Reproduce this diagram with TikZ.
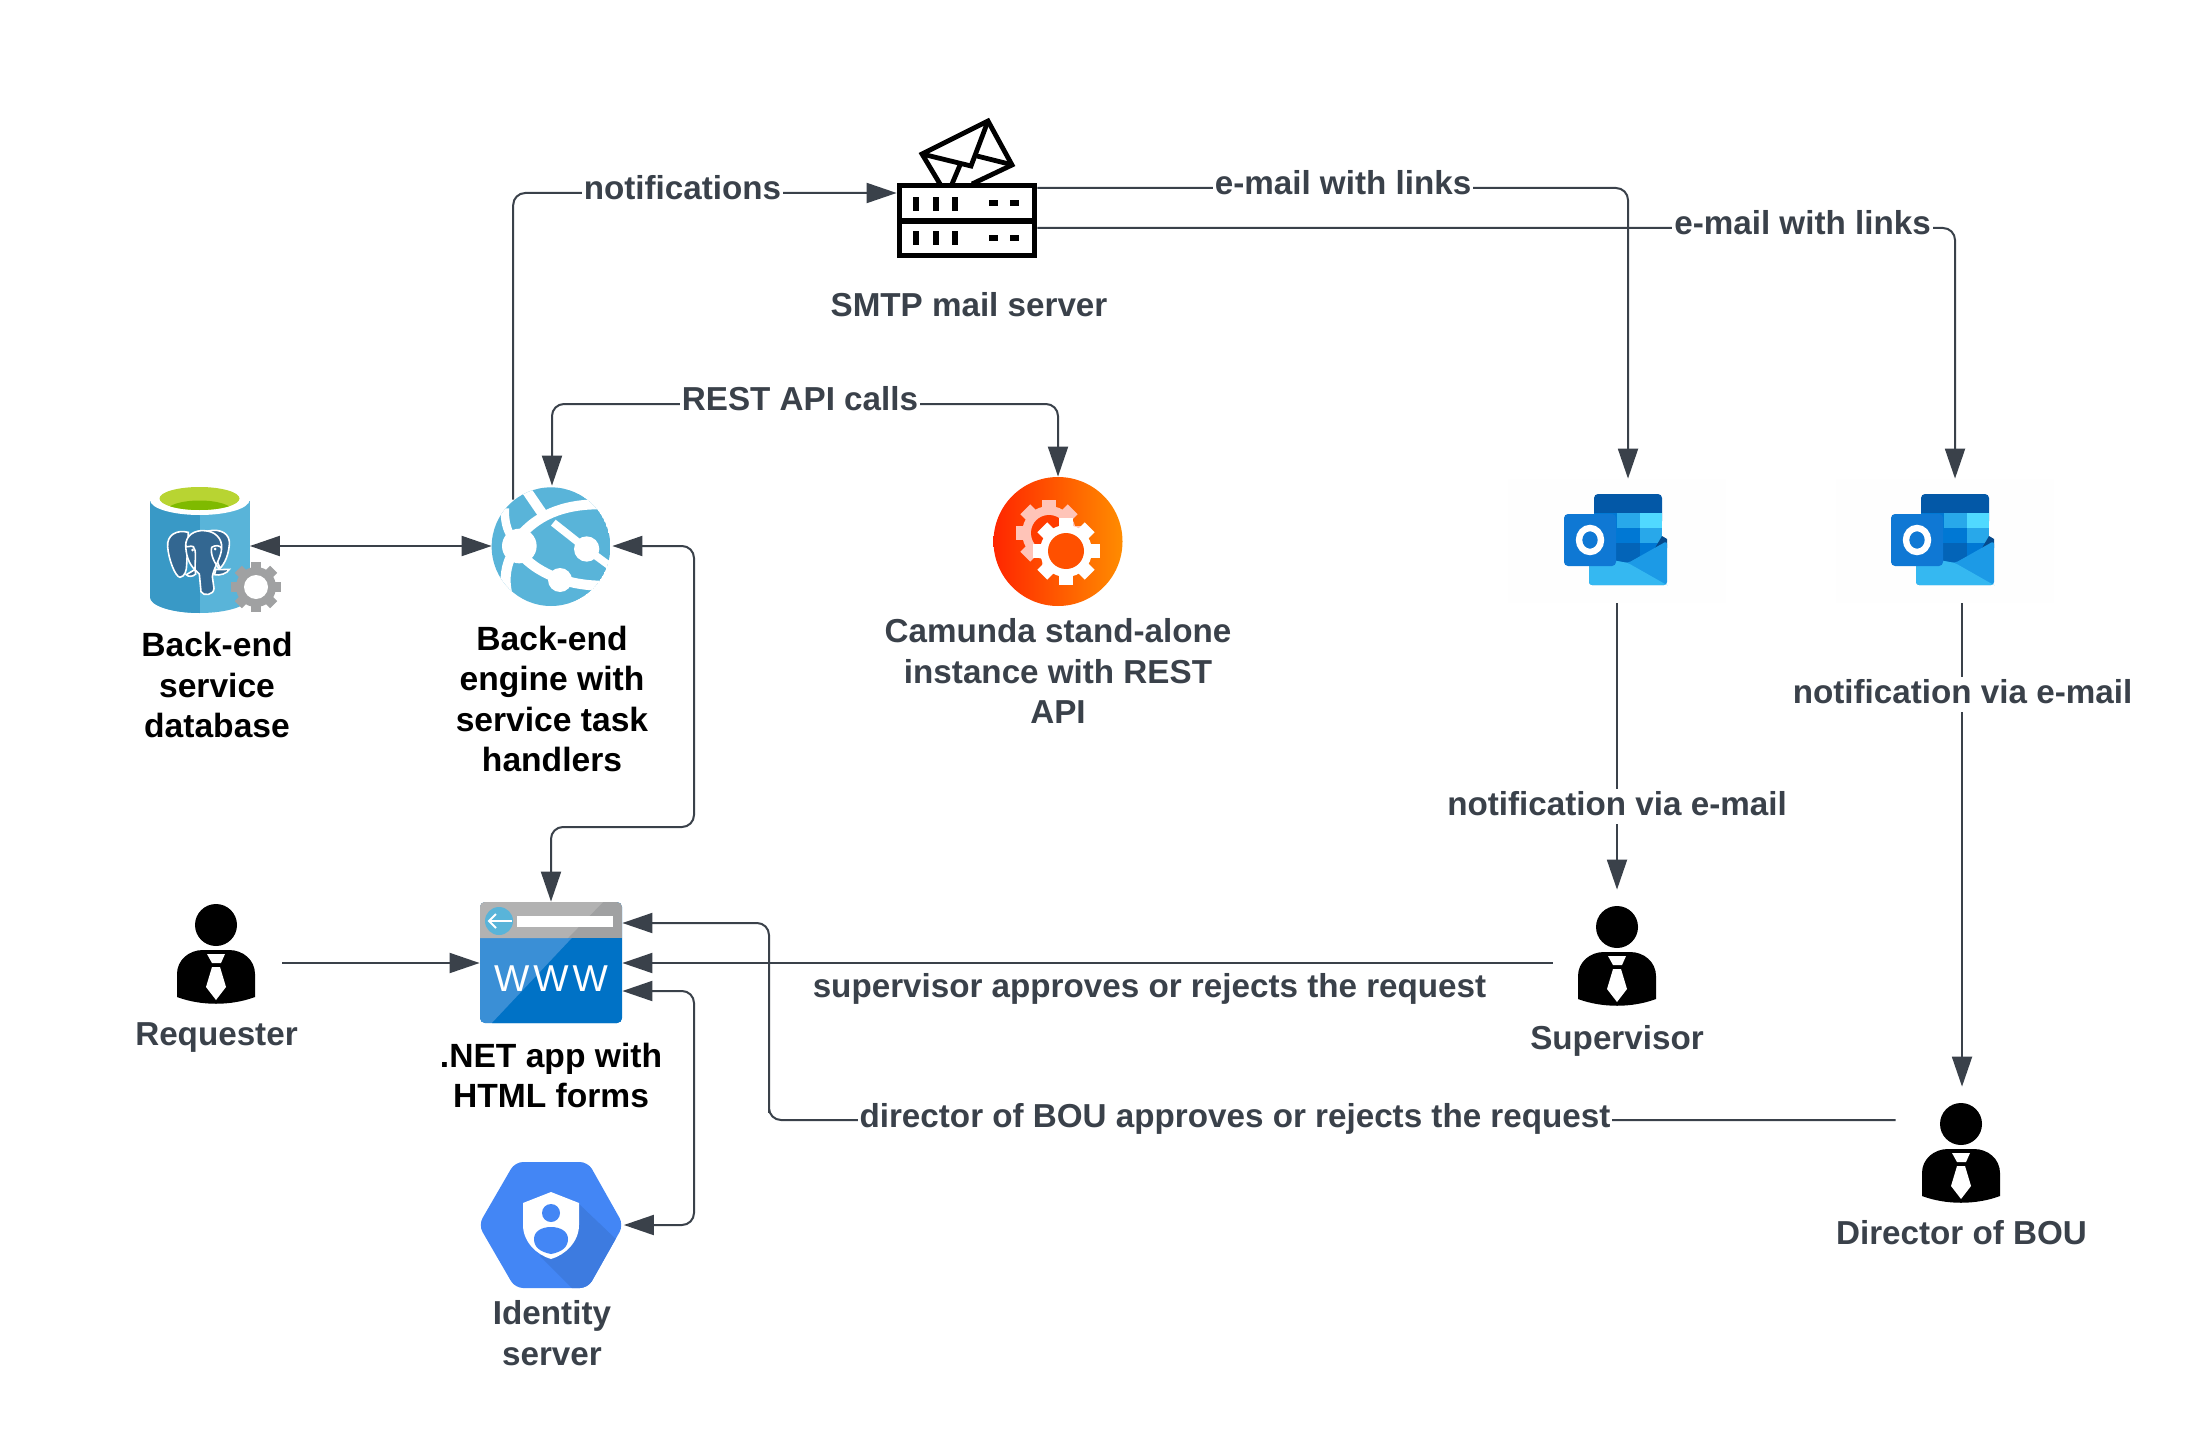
\documentclass[tikz,border=0pt]{standalone}
\usepackage{fontspec}
\setmainfont{Liberation Sans}
\usetikzlibrary{arrows.meta,shapes.geometric,calc}
\definecolor{conncol}{HTML}{3A414A}
\definecolor{globeblue}{HTML}{59B4D9}
\definecolor{dbdark}{HTML}{3999C6}
\definecolor{gearg}{HTML}{A0A1A2}
\definecolor{wwwblue}{HTML}{0072C6}
\definecolor{wwwlight}{HTML}{3A8FD6}
\definecolor{wwwgrey}{HTML}{A0A1A2}
\definecolor{wwwgreyl}{HTML}{B2B2B2}
\definecolor{hexblue}{HTML}{4386F5}
\definecolor{hexdark}{HTML}{3D7BE0}
\definecolor{elephant}{HTML}{336791}
\definecolor{camred}{HTML}{FF2600}
\definecolor{camorange}{HTML}{FF8C00}
\definecolor{campink}{HTML}{FFC4B8}
\definecolor{camholea}{HTML}{FF3C00}
\definecolor{camholeb}{HTML}{FF5000}
\definecolor{faintbox}{HTML}{FEFEFE}
\definecolor{dbgreen}{HTML}{B8D432}
\definecolor{dbgreend}{HTML}{7FBA00}
\definecolor{olband}{HTML}{0358A7}
\definecolor{olmid}{HTML}{0078D4}
\definecolor{ollight}{HTML}{28A8EA}
\definecolor{olpale}{HTML}{50D9FF}
\definecolor{oldeep}{HTML}{0364B8}
\definecolor{oltip}{HTML}{064A8C}
\definecolor{olright}{HTML}{1C9AE6}
\definecolor{olfront}{HTML}{35B8F1}
\definecolor{olsq}{HTML}{0F78D4}
\tikzset{
  x=0.5pt,y=-0.5pt,
  conn/.style={draw=conncol,line width=1pt,rounded corners=6pt},
  tipend/.style={-{Triangle[length=15pt,width=10pt]}},
  tipboth/.style={{Triangle[length=15pt,width=10pt]}-{Triangle[length=15pt,width=10pt]}},
  lbl/.style={font=\bfseries\fontsize{16.6}{20.2}\selectfont,text=conncol,fill=white,inner sep=1pt,text height=12pt,text depth=3.5pt},
  captext/.style={font=\bfseries\fontsize{16.6}{20.2}\selectfont,text=conncol,align=center,inner sep=0pt},
  captextb/.style={captext,text=black,font=\bfseries\fontsize{16.8}{20.2}\selectfont},
}
\newcommand\gearicon[8]{%
  \fill[#7] (#1,#2) circle[radius=#4];
  \foreach \a in {0,45,90,135}{\fill[#7,rotate around={\a:(#1,#2)}] (#1-#6,#2-#3) rectangle (#1+#6,#2+#3);}
  \fill[#8] (#1,#2) circle[radius=#5];
}
\newcommand\personicon[2]{%
  \begin{scope}[shift={(#1,#2)}]
  \fill[black] (0,0) circle[radius=21];
  \fill[black] (-39,72) -- (-39,49) .. controls (-39,35) and (-27,25) .. (-13,25) -- (13,25) .. controls (27,25) and (39,35) .. (39,49) -- (39,72) .. controls (15,81) and (-15,81) .. (-39,72) -- cycle;
  \fill[white] (-9,29) -- (9,29) -- (5,38) -- (-4,38) -- cycle;
  \fill[white] (-4,42) -- (4,42) -- (10,62) -- (0,75) -- (-10,62) -- cycle;
  \end{scope}
}
\newcommand\outlookicon[1]{%
  \begin{scope}[shift={(#1,0)}]
  \fill[rounded corners=2pt,olband] (1594,494) rectangle (1662,525);
  \fill[olmid] (1594,513) rectangle (1617,560);
  \fill[ollight] (1617,513) rectangle (1640,528);
  \fill[olpale] (1640,513) rectangle (1662,528);
  \fill[olmid] (1617,528) rectangle (1640,543);
  \fill[ollight] (1640,528) rectangle (1662,543);
  \fill[oldeep] (1594,543) rectangle (1640,565);
  \fill[olmid] (1640,543) rectangle (1662,565);
  \fill[oltip] (1662,536) -- (1667,539) -- (1667,548) -- (1655,548) -- cycle;
  \fill[rounded corners=1.5pt,olright] (1589,556) -- (1628,563) -- (1667,541) -- (1667,585) -- (1589,585) -- cycle;
  \fill[rounded corners=1.5pt,olfront] (1589,556) -- (1628,563) -- (1665,584) -- (1667,585) -- (1589,585) -- cycle;
  \fill[rounded corners=2pt,olsq] (1564,514) rectangle (1616,566);
  \draw[white,line width=3.2pt] (1590,540) circle[x radius=11,y radius=12];
  \end{scope}
}
\begin{document}
\begin{tikzpicture}
\useasboundingbox (0,0) rectangle (2209,1444);
\fill[white] (0,0) rectangle (2209,1444);

% --- named icon frames
\node[circle,inner sep=0pt,minimum size=60pt] (glb) at (552,546) {};
\node[circle,inner sep=0pt,minimum size=64.5pt,left color=camred,right color=camorange] (cam) at (1058,541.5) {};
\node[inner sep=0pt,minimum width=50pt,minimum height=63pt] (db) at (199.5,549) {};
\node[inner sep=0pt,minimum width=70pt,minimum height=37.5pt] (smtp) at (967,220.5) {};
\node[inner sep=0pt,minimum width=71pt,minimum height=60.5pt] (www) at (551,962.5) {};
\node[inner sep=0pt,minimum width=72.5pt,minimum height=63pt] (hex) at (551,1225) {};
\node[inner sep=0pt,minimum width=109pt,minimum height=62pt,fill=faintbox] (ol1) at (1617,541) {};
\node[inner sep=0pt,minimum width=109pt,minimum height=62pt,fill=faintbox] (ol2) at (1945,541) {};
\node[inner sep=0pt,minimum width=66pt,minimum height=40pt] (req) at (216,963) {};
\node[inner sep=0pt,minimum width=64pt,minimum height=73pt] (sup) at (1617,963) {};
\node[inner sep=0pt,minimum width=66pt,minimum height=33pt] (dir) at (1962,1120) {};

% --- connector bends
\coordinate (restbar) at (800,404);
\coordinate (busA) at (694,827);
\coordinate (busB) at (769,1120);
\coordinate (busC) at (694,1225);

% --- connectors
\draw[conn,tipend] (glb.130) |- ([yshift=13.75pt]smtp.west);
\draw[conn,tipend] ([yshift=16.25pt]smtp.east) -| ([xshift=5.5pt]ol1.north);
\draw[conn,tipend] ([yshift=-3.75pt]smtp.east) -| ([xshift=5pt]ol2.north);
\draw[conn,tipboth] (glb.north) |- (restbar) -| (cam.north);
\draw[conn,tipboth] (db.east |- glb.west) -- (glb.west);
\draw[conn,tipboth] (glb.east) -| (busA) -| (www.north);
\draw[conn,tipend] (req.east) -- (req.east -| www.west);
\draw[conn,tipend] (sup.west) -- (sup.west -| www.east);
\draw[conn,tipend] (dir.west) -| (busB) |- ([yshift=19.75pt]www.east);
\draw[conn,tipboth] ([yshift=-14.25pt]www.east) -| (busC) -- (hex.east);
\draw[conn,tipend] (ol1.south) -- (sup.north);
\draw[conn,tipend] ([xshift=8.5pt]ol2.south) -- (dir.north);

% --- database
\fill[globeblue] (150,501) rectangle (249.5,597);
\fill[globeblue] (150,597) arc[start angle=180,end angle=360,x radius=49.75,y radius=-16];
\fill[dbdark] (150,501) rectangle (199.5,597);
\fill[dbdark] (150,597) arc[start angle=180,end angle=270,x radius=49.75,y radius=-16] -- (199.75,597) -- cycle;
\fill[white] (199.75,500) circle[x radius=49.75,y radius=15];
\fill[dbgreen] (199.5,498.5) circle[x radius=40,y radius=11.5];
\begin{scope}
  \clip (199.5,498.5) circle[x radius=40,y radius=11.5];
  \fill[dbgreend] (199.5,511) circle[x radius=33,y radius=10.5];
\end{scope}
\begin{scope}[shift={(140,480)},scale=0.33333,fill=elephant,draw=white,line width=0.8pt]
  \filldraw (145,157) .. controls (110,148) and (80,165) .. (83,200) .. controls (85,235) and (105,290) .. (120,292) .. controls (135,290) and (140,270) .. (140,255) -- cycle;
  \filldraw (205,153) .. controls (240,145) and (272,160) .. (268,195) .. controls (265,225) and (255,250) .. (240,265) -- (215,200) -- cycle;
  \filldraw (137,197) .. controls (137,165) and (165,150) .. (192,152) .. controls (225,153) and (247,175) .. (245,205) .. controls (243,235) and (222,260) .. (217,290) -- (222,325) .. controls (222,345) and (190,350) .. (183,335) -- (178,282) .. controls (165,268) and (140,255) .. (137,197) -- cycle;
  \filldraw (165,268) .. controls (155,275) and (145,280) .. (139,284) .. controls (145,292) and (160,290) .. (167,282) -- cycle;
  \filldraw (228,268) .. controls (240,270) and (255,268) .. (268,268) .. controls (262,280) and (240,288) .. (223,284) -- cycle;
  \draw (137,197) .. controls (140,205) and (150,195) .. (160,200) .. controls (170,210) and (165,240) .. (165,268);
  \draw (245,205) .. controls (240,195) and (225,195) .. (215,202) .. controls (210,225) and (225,250) .. (238,268);
\end{scope}
\fill[white] (192.5,550) circle[radius=1.5];
\fill[white] (215,549) circle[radius=1.5];
\gearicon{256}{587}{25}{20}{12}{5}{gearg}{white}

% --- back-end globe
\begin{scope}[shift={(485,480)},scale=0.33333]
  \clip (198,200) circle[radius=178];
  \fill[globeblue] (198,200) circle[radius=178];
  \begin{scope}[draw=white,line width=5pt]
    \draw (125,32) -- (175,105);
    \draw (100,175) .. controls (150,110) and (230,72) .. (345,73);
    \draw (110,225) .. controls (150,270) and (230,315) .. (345,317);
  \end{scope}
  \draw[white,line width=3.8pt] (205,128) -- (305,207) -- (380,262);
  \draw[white,line width=4.2pt] (60,85) .. controls (58,120) and (65,150) .. (80,170);
  \draw[white,line width=5pt] (75,235) .. controls (60,270) and (58,310) .. (68,345);
  \fill[white] (103,198) circle[radius=52];
  \fill[white] (305,207) circle[radius=38];
  \fill[white] (225,300) circle[radius=36];
\end{scope}

% --- camunda gears
\gearicon{1049}{533}{33.5}{27}{18}{7}{campink}{camholea}
\gearicon{1066}{551}{33.5}{26}{18}{7}{white}{camholeb}

% --- smtp icon
\draw[black,line width=2.7pt] (899.5,185.5) rectangle (1034.5,255.5);
\draw[black,line width=2.7pt] (899.5,221) -- (1034.5,221);
\foreach \xx in {916,936,955}{
  \fill[black] (\xx-3,197) rectangle (\xx+3,211);
  \fill[black] (\xx-3,231) rectangle (\xx+3,245);
}
\foreach \xx in {993,1014}{
  \fill[black] (\xx-4.5,200) rectangle (\xx+4.5,206);
  \fill[black] (\xx-4.5,235) rectangle (\xx+4.5,241);
}
\draw[black,line width=2.4pt,line join=miter] (940,184) -- (922,154) -- (988,121) -- (1012,165) -- (972,184);
\draw[black,line width=2.4pt,line join=miter] (922,154) -- (971,166) -- (988,121);
\draw[black,line width=2.4pt] (977,156) -- (1009,164);
\draw[black,line width=2.4pt] (960,165) -- (952,184);

% --- outlook icons
\outlookicon{0}
\outlookicon{327}

% --- persons
\personicon{216}{925}
\personicon{1617}{927}
\personicon{1961}{1124}

% --- www
\fill[wwwblue,rounded corners=2.5pt] (480,902) rectangle (622,1023);
\begin{scope}
  \clip[rounded corners=2.5pt] (480,902) rectangle (622,1023);
  \fill[wwwlight] (480,938) rectangle (622,1023);
  \fill[wwwblue] (572,938) -- (622,938) -- (622,1023) -- (492,1023) -- cycle;
  \fill[wwwgrey] (480,902) rectangle (622,938);
  \fill[wwwgreyl] (480,902) -- (603,902) -- (568,938) -- (480,938) -- cycle;
\end{scope}
\fill[globeblue] (499,921) circle[radius=14];
\draw[white,line width=1pt] (489,921) -- (512,921);
\draw[white,line width=1pt] (496,914) -- (489,921) -- (496,928);
\fill[white] (517,916) rectangle (613,927);
\node[text=white,font=\fontsize{18.7}{20}\selectfont,inner sep=0pt] (wwwtxt) at (551,978.5) {W\kern2pt W\kern2pt W};

% --- identity hexagon
\fill[hexblue,rounded corners=4pt] (478.5,1225) -- (515,1162) -- (588,1162) -- (623.5,1225) -- (588,1288) -- (515,1288) -- cycle;
\begin{scope}
  \clip[rounded corners=4pt] (478.5,1225) -- (515,1162) -- (588,1162) -- (623.5,1225) -- (588,1288) -- (515,1288) -- cycle;
  \fill[hexdark] (578,1203) -- (620,1243) -- (600,1290) -- (574,1290) -- (540,1256) -- cycle;
\end{scope}
\fill[white] (551,1192) -- (579,1203) -- (579,1225) .. controls (579,1242) and (565,1255) .. (551,1259) .. controls (537,1255) and (523,1242) .. (523,1225) -- (523,1203) -- cycle;
\fill[hexblue] (551,1213) circle[radius=9];
\fill[hexblue] (551,1254) .. controls (540,1252) and (534,1247) .. (534,1239) .. controls (534,1231) and (542,1227) .. (551,1227) .. controls (560,1227) and (568,1231) .. (568,1239) .. controls (568,1247) and (562,1252) .. (551,1254) -- cycle;

% --- connector labels
\node[lbl] (lnotif) at (682.5,191.5) {notifications};
\node[lbl] (lrest) at (800,402) {REST API calls};
\node[lbl] (lmail1) at (1343,186.5) {e-mail with links};
\node[lbl] (lmail2) at (1802.5,226.5) {e-mail with links};
\node[lbl] (lnot1) at (1617,806.5) {notification via e-mail};
\node[lbl] (lnot2) at (1962.5,694.5) {notification via e-mail};
\node[lbl] (lsup) at (1149.5,989) {supervisor approves or rejects the request};
\node[lbl] (ldir) at (1235,1119) {director of BOU approves or rejects the request};

% --- captions
\node[captext] (csmtp) at (969,305) {SMTP mail server};
\node[captextb] (cdb) at (217,685) {Back-end\\service\\database};
\node[captextb] (cglb) at (552,699) {Back-end\\engine with\\service task\\handlers};
\node[captext] (ccam) at (1058,671) {Camunda stand-alone\\instance with REST\\API};
\node[captextb] (cwww) at (551,1075.5) {.NET app with\\HTML forms};
\node[captext] (chex) at (552,1333) {Identity\\server};
\node[captext] (creq) at (216.5,1038) {Requester};
\node[captext] (csup) at (1617,1040.5) {Supervisor};
\node[captext] (cdir) at (1961.5,1233) {Director of BOU};
\end{tikzpicture}
\end{document}
